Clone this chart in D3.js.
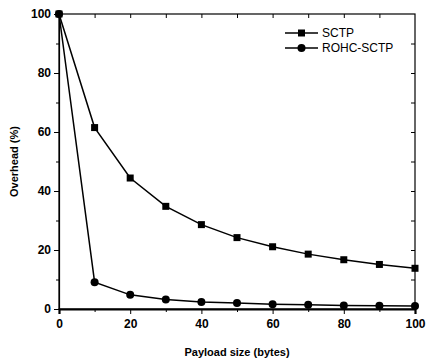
<!DOCTYPE html>
<html>
<head>
<meta charset="utf-8">
<script src="https://cdn.jsdelivr.net/npm/d3@7"></script>
<style>
  body { margin: 0; background: #fff; }
  text { font-family: "Liberation Sans", Arial, sans-serif; font-weight: bold; fill: #000; }
</style>
</head>
<body>
<div id="chart"></div>
<script>
// payload sizes and overhead values
const payload = [0, 10, 20, 30, 40, 50, 60, 70, 80, 90, 100];
const sctp = [100, 61.5, 44.4, 34.8, 28.6, 24.2, 21.1, 18.6, 16.7, 15.1, 13.8];
const rohc = [100, 9.1, 4.8, 3.2, 2.4, 2.0, 1.6, 1.4, 1.2, 1.1, 1.0];
const seriesNames = ["SCTP", "ROHC-SCTP"];
const xTicks = [0, 20, 40, 60, 80, 100];
const yTicks = [0, 20, 40, 60, 80, 100];

const width = 426, height = 361;
const margin = { top: 14, right: 11, bottom: 52, left: 59 };
const w = width - margin.left - margin.right;
const h = height - margin.top - margin.bottom;

const svg = d3.select("#chart").append("svg")
    .attr("width", width)
    .attr("height", height);

const g = svg.append("g")
    .attr("transform", `translate(${margin.left},${margin.top})`);

const x = d3.scaleLinear().domain([0, 100]).range([0, w]);
const y = d3.scaleLinear().domain([0, 100]).range([h, 0]);

// frame
g.append("rect")
    .attr("width", w).attr("height", h)
    .attr("fill", "none").attr("stroke", "#000").attr("stroke-width", 1.2);

// bottom axis
const xAxis = g.append("g")
    .attr("transform", `translate(0,${h})`)
    .call(d3.axisBottom(x).tickValues(xTicks).tickSize(5).tickPadding(5).tickFormat(d3.format("d")));
xAxis.select(".domain").attr("stroke-width", 2.2);
xAxis.selectAll("text").style("font-size", "12px");
g.append("g")
    .attr("transform", `translate(0,${h})`)
    .call(d3.axisBottom(x).tickValues(d3.range(10, 100, 20)).tickSize(3).tickFormat(""))
    .call(a => a.select(".domain").remove());

// left axis
const yAxis = g.append("g")
    .call(d3.axisLeft(y).tickValues(yTicks).tickSize(5).tickPadding(3).tickFormat(d3.format("d")));
yAxis.select(".domain").attr("stroke-width", 1.2);
yAxis.selectAll("text").style("font-size", "12px");
g.append("g")
    .call(d3.axisLeft(y).tickValues(d3.range(10, 100, 20)).tickSize(3).tickFormat(""))
    .call(a => a.select(".domain").remove());

// top and right mirrored ticks (inward)
g.append("g")
    .call(d3.axisBottom(x).tickValues(d3.range(10, 100, 10)).tickSize(4).tickFormat(""))
    .call(a => a.select(".domain").remove());
g.append("g")
    .attr("transform", `translate(${w},0)`)
    .call(d3.axisLeft(y).tickValues(d3.range(10, 100, 10)).tickSize(4).tickFormat(""))
    .call(a => a.select(".domain").remove());

// axis titles
svg.append("text")
    .attr("x", margin.left + w / 2)
    .attr("y", 356)
    .attr("text-anchor", "middle")
    .style("font-size", "11px")
    .text("Payload size (bytes)");

svg.append("text")
    .attr("transform", `translate(18,${margin.top + h / 2}) rotate(-90)`)
    .attr("text-anchor", "middle")
    .style("font-size", "11px")
    .text("Overhead (%)");

// lines and markers
const line = d3.line().x(d => x(d[0])).y(d => y(d[1]));
const sctpData = payload.map((p, i) => [p, sctp[i]]);
const rohcData = payload.map((p, i) => [p, rohc[i]]);

[sctpData, rohcData].forEach(data => {
    g.append("path")
        .datum(data)
        .attr("d", line)
        .attr("fill", "none")
        .attr("stroke", "#000")
        .attr("stroke-width", 1.5);
});

g.append("g").selectAll("rect")
    .data(sctpData)
    .join("rect")
    .attr("x", d => x(d[0]) - 3.5)
    .attr("y", d => y(d[1]) - 3.5)
    .attr("width", 7).attr("height", 7)
    .attr("fill", "#000");

g.append("g").selectAll("circle")
    .data(rohcData)
    .join("circle")
    .attr("cx", d => x(d[0]))
    .attr("cy", d => y(d[1]))
    .attr("r", 4)
    .attr("fill", "#000");

// legend
const legend = svg.append("g");
seriesNames.forEach((name, i) => {
    const ly = 33 + i * 15;
    legend.append("line")
        .attr("x1", 285).attr("x2", 318)
        .attr("y1", ly).attr("y2", ly)
        .attr("stroke", "#000").attr("stroke-width", 1.5);
    if (i === 0) {
        legend.append("rect")
            .attr("x", 298).attr("y", ly - 3.5)
            .attr("width", 7).attr("height", 7)
            .attr("fill", "#000");
    } else {
        legend.append("circle")
            .attr("cx", 301.5).attr("cy", ly).attr("r", 4)
            .attr("fill", "#000");
    }
    legend.append("text")
        .attr("x", 322).attr("y", ly)
        .attr("dy", "0.35em")
        .style("font-size", "12px")
        .style("font-weight", "normal")
        .text(name);
});
</script>
</body>
</html>
